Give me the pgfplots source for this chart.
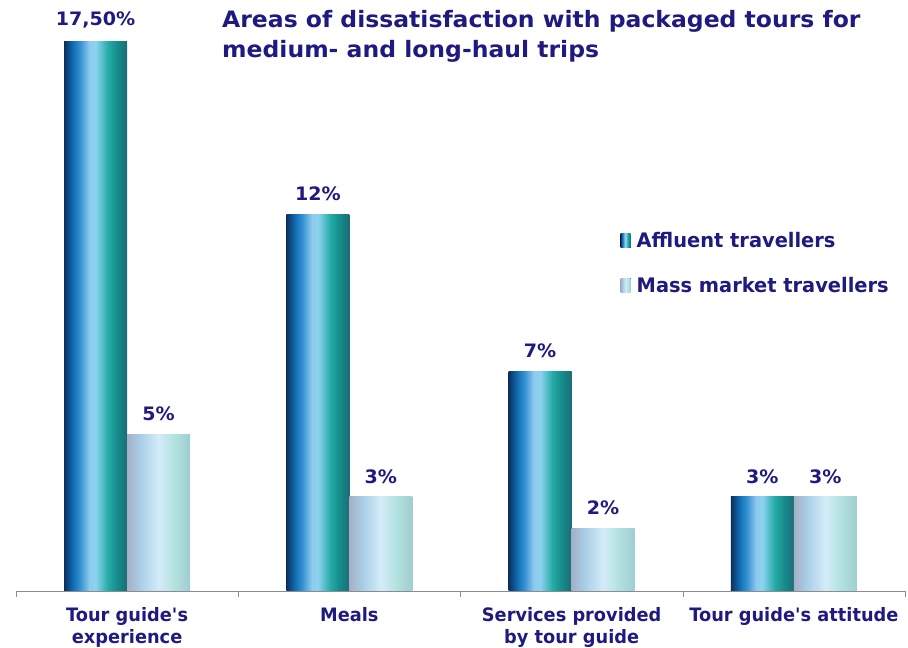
\documentclass[border=0pt]{standalone}
\usepackage{pgfplots}
\pgfplotsset{compat=1.18}
\usepackage{fontspec}
\setmainfont{DejaVu Sans}
\newfontfamily\titlef[FakeStretch=1.04]{DejaVu Sans Bold}
\newfontfamily\tickf[FakeStretch=0.96]{DejaVu Sans Bold}
\newfontfamily\legf[FakeStretch=0.97]{DejaVu Sans Bold}
\newfontfamily\valf[FakeStretch=1.03]{DejaVu Sans Bold}
\definecolor{txt}{RGB}{30,26,128}
\definecolor{axgray}{RGB}{140,140,140}
\definecolor{a1}{RGB}{12,48,95}
\definecolor{a2}{RGB}{18,110,180}
\definecolor{a3}{RGB}{50,145,210}
\definecolor{a4}{RGB}{142,202,238}
\definecolor{a5}{RGB}{140,210,240}
\definecolor{a6}{RGB}{35,170,165}
\definecolor{a7}{RGB}{22,140,140}
\definecolor{a8}{RGB}{28,108,118}
\definecolor{m1}{RGB}{165,176,198}
\definecolor{m2}{RGB}{168,205,230}
\definecolor{m3}{RGB}{212,236,248}
\definecolor{m4}{RGB}{178,226,224}
\definecolor{m5}{RGB}{160,205,208}
\pgfdeclarehorizontalshading{affl}{100bp}{color(0bp)=(a1); color(25bp)=(a1); color(32bp)=(a2); color(37.5bp)=(a3); color(45bp)=(a4); color(50bp)=(a5); color(60bp)=(a6); color(67bp)=(a7); color(75bp)=(a8); color(100bp)=(a8)}
\pgfdeclarehorizontalshading{mass}{100bp}{color(0bp)=(m1); color(25bp)=(m1); color(35bp)=(m2); color(50bp)=(m3); color(62bp)=(m4); color(75bp)=(m5); color(100bp)=(m5)}
\begin{document}
\begin{tikzpicture}
\useasboundingbox (0,0) rectangle (908pt,648pt);
\begin{axis}[
  at={(16pt,57pt)}, anchor=south west,
  width=889pt, height=571pt, scale only axis,
  xmin=-0.5, xmax=3.5, ymin=0, ymax=18.2,
  axis y line=none, axis x line*=bottom,
  x axis line style={draw=axgray, -},
  xtick={0,1,2,3},
  xticklabels={{Tour guide\textquotesingle s\\experience},{Meals},{Services provided\\by tour guide},{Tour guide\textquotesingle s attitude}},
  xticklabel style={align=center, font=\tickf\fontsize{18.5}{22}\selectfont, text=txt, yshift=-13pt},
  major tick length=0pt,
  minor xtick={-0.5,0.5,1.5,2.5,3.5},
  minor tick length=6pt,
  tick align=outside,
  minor tick style={draw=axgray},
  ybar, bar width=63pt,
  nodes near coords,
  point meta=explicit symbolic,
  every node near coord/.append style={font=\valf\fontsize{18.5}{22}\selectfont, text=txt, anchor=south, yshift=10pt},
  legend style={at={(0.680,0.632)}, anchor=north west, draw=none, fill=none, font=\legf\fontsize{20}{24}\selectfont, text=txt, row sep=24pt, inner sep=0pt, column sep=0pt},
  legend cell align=left,
  legend image code/.code={\fill[#1] (0pt,-7pt) rectangle (10pt,7pt); \path (14pt,0pt);},
  affl/.style={draw=none, shading=affl, bar shift=-31.5pt},
  mass/.style={draw=none, shading=mass, bar shift=31.5pt},
]
\addplot[affl] table[x=x, y=y, meta=lab]{
x y lab
0 17.5 {17,50\%}
};
\addlegendentry{Affluent travellers}
\addplot[mass] table[x=x, y=y, meta=lab]{
x y lab
0 5 {5\%}
};
\addlegendentry{Mass market travellers}
\addplot[affl, forget plot] table[x=x, y=y, meta=lab]{
x y lab
1 12 {12\%}
};
\addplot[affl, forget plot] table[x=x, y=y, meta=lab]{
x y lab
2 7 {7\%}
};
\addplot[affl, forget plot] table[x=x, y=y, meta=lab]{
x y lab
3 3 {3\%}
};
\addplot[mass, forget plot] table[x=x, y=y, meta=lab]{
x y lab
1 3 {3\%}
};
\addplot[mass, forget plot] table[x=x, y=y, meta=lab]{
x y lab
2 2 {2\%}
};
\addplot[mass, forget plot] table[x=x, y=y, meta=lab]{
x y lab
3 3 {3\%}
};
\end{axis}
\node[anchor=base west, font=\titlef\fontsize{22.6}{28}\selectfont, text=txt, inner sep=0pt] at (222pt,620pt) {Areas of dissatisfaction with packaged tours for};
\node[anchor=base west, font=\titlef\fontsize{22.6}{28}\selectfont, text=txt, inner sep=0pt] at (222pt,590.5pt) {medium- and long-haul trips};
\end{tikzpicture}
\end{document}
